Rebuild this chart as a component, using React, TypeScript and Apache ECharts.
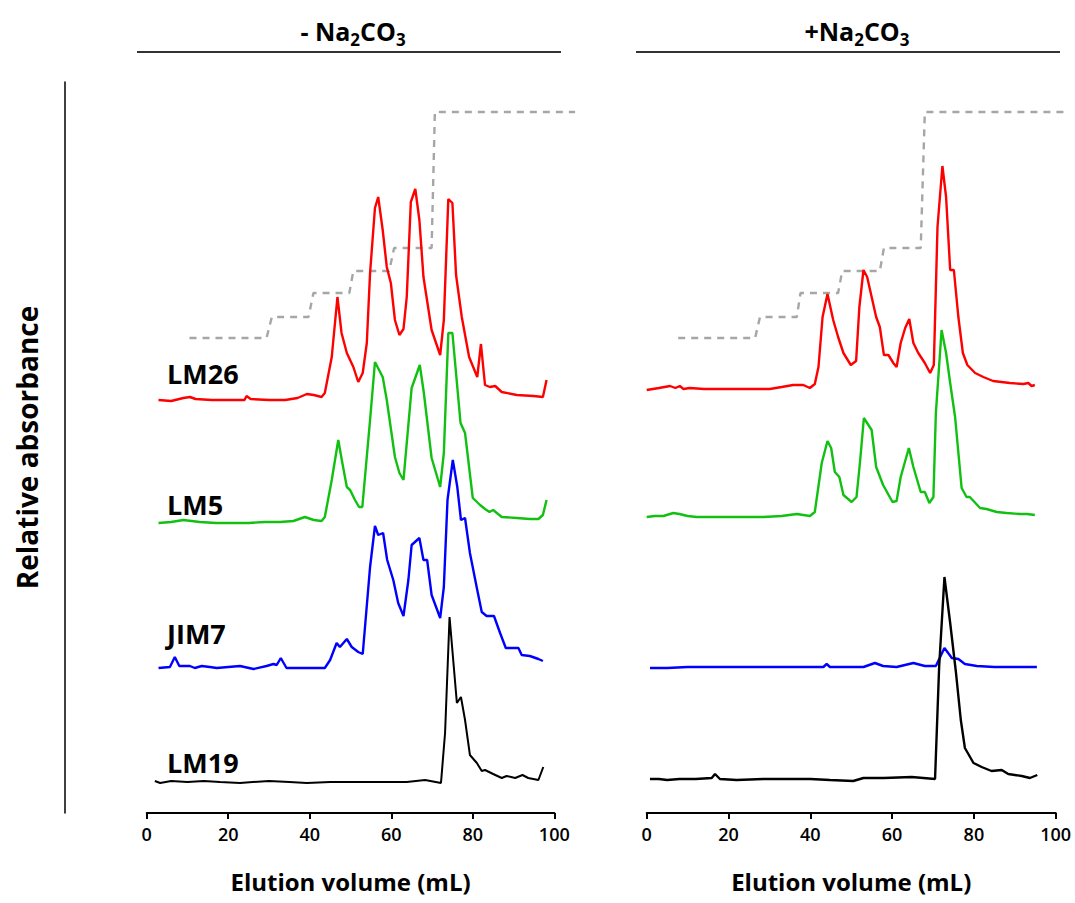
import React, { useEffect, useRef } from "react";
import * as echarts from "echarts";

// ---------- data ----------
const xTicks = [0, 20, 40, 60, 80, 100];
const traceLabels = ["LM26", "LM5", "JIM7", "LM19"];
const panelTitles = ["- Na2CO3", "+Na2CO3"];

// Left panel (- Na2CO3): [elution volume mL, stacked relative absorbance]
const leftLM26: [number, number][] = [
  [2.9, 413], [6, 412], [9, 415], [10.6, 416], [12, 414], [16, 413], [20, 413], [24, 413], [24.5, 417], [25.5, 414],
  [30, 413], [34, 413], [37, 415], [39.3, 419], [41, 418], [42.9, 416], [43.7, 420], [45.4, 456], [46.8, 516], [47.8, 480],
  [49.1, 460], [50.7, 446], [51.9, 431], [53, 440], [54, 470], [54.8, 540], [56, 605], [56.8, 616], [57.9, 583], [58.9, 546],
  [59.9, 530], [60.9, 493], [62, 478], [63, 484], [63.8, 516], [64.8, 611], [65.9, 624], [66.9, 593], [67.9, 536], [69.9, 483],
  [72, 458], [72.9, 493], [74, 614], [75, 610], [75.9, 538], [77.3, 496], [79.1, 456], [81.1, 436], [82, 469], [83, 428],
  [84.2, 426], [85.5, 427], [87.1, 421], [90.8, 418], [94.9, 417], [97.2, 416], [98.1, 433],
];
const leftLM5: [number, number][] = [
  [2.9, 290], [6, 291], [9, 293], [13, 291], [17, 290], [21.2, 290], [25, 290], [29, 291], [32.7, 291], [36, 292],
  [38.8, 296], [41, 293], [42.9, 292], [43.7, 296], [45.4, 333], [47, 373], [48, 350], [49.1, 326], [49.9, 323], [51.1, 313],
  [52.1, 306], [52.9, 306], [54.8, 393], [56, 451], [57.9, 436], [58.9, 413], [60.9, 356], [62, 340], [63, 333], [63.8, 370],
  [65, 425], [67, 448], [68, 420], [69.9, 355], [72, 326], [72.9, 360], [74, 480], [75, 480], [77, 390], [78.1, 380],
  [80, 315], [81.8, 308], [83, 304], [84.1, 301], [85, 303], [87.1, 296], [90.8, 295], [94, 294], [96.1, 294], [97.2, 298], [98.1, 313],
];
const leftJIM7: [number, number][] = [
  [2.9, 145], [5.7, 146], [6.9, 156], [8, 147], [10.6, 147], [11.8, 145], [13.5, 147], [15.5, 146], [17.2, 145], [20, 146],
  [22.9, 147], [26.2, 144], [29.4, 147], [31.1, 149], [31.9, 148], [32.9, 155], [34.3, 145], [40, 145], [43.7, 145], [45, 153],
  [46.6, 170], [47.4, 166], [49.1, 174], [50.3, 166], [51.9, 161], [53, 159], [54.8, 246], [56, 287], [56.8, 278], [58, 280],
  [59, 253], [60.5, 233], [61.7, 210], [63, 197], [64.2, 233], [65, 268], [66.9, 275], [67.9, 253], [68.8, 253], [69.9, 218],
  [72, 195], [72.9, 226], [73.8, 313], [75.1, 353], [76.2, 326], [77.1, 293], [78.1, 295], [79.3, 260], [81, 225], [82.2, 201],
  [83.4, 197], [85.2, 197], [86.7, 180], [88.1, 165], [91.2, 165], [92, 158], [94, 157], [96.1, 154], [97.2, 152],
];
const leftLM19: [number, number][] = [
  [2, 32], [3.3, 30], [6, 32], [10, 31], [14, 32], [18, 31], [22.9, 30], [26, 31], [30, 32], [35, 31],
  [39.3, 30], [45, 31], [51.5, 31], [57, 31], [63.8, 31], [68.3, 33], [72.2, 30], [73.2, 80], [74.3, 196], [76.1, 110],
  [77.1, 116], [78.1, 93], [79.3, 58], [81, 50], [82.2, 42], [83, 43], [85, 39], [87.1, 35], [88.3, 37], [90.4, 35],
  [92.2, 38], [93.6, 35], [96.1, 33], [97.3, 46],
];
const leftGradient: [number, number][] = [
  [10.5, 475], [29.4, 475], [30.7, 496], [39.7, 496], [40.9, 520], [49.7, 520], [50.7, 542], [59.5, 542],
  [60.7, 565], [69.9, 565], [70.7, 701], [105.1, 701],
];

// Right panel (+Na2CO3)
const rightLM26: [number, number][] = [
  [0, 423], [3, 425], [5.7, 427], [7, 425], [8.1, 427], [9, 424], [10.5, 425], [14, 424], [20.4, 424], [25, 424],
  [30.1, 424], [33, 426], [35.8, 428], [38.3, 428], [39.9, 425], [41.1, 429], [42, 446], [43, 496], [44.2, 519], [45.6, 493],
  [46.8, 476], [48.1, 460], [49.9, 448], [51.2, 452], [52, 506], [53, 543], [53.9, 536], [55, 516], [56.1, 496], [57, 486],
  [58, 458], [59.1, 458], [60.3, 450], [61.1, 446], [62.1, 470], [63.2, 485], [64.2, 494], [65.2, 470], [66.4, 460], [68, 450],
  [69.3, 440], [70.2, 448], [71.1, 586], [72.3, 647], [73.2, 616], [74.2, 543], [75.1, 543], [76.2, 496], [77.3, 460], [78.4, 448],
  [80.3, 440], [82.3, 436], [84.7, 432], [88.8, 430], [92.1, 429], [93.3, 430], [94.1, 427], [94.9, 428],
];
const rightLM5: [number, number][] = [
  [0, 296], [2, 297], [4.1, 297], [6.5, 300], [8, 299], [10, 297], [12.2, 296], [14.7, 296], [20, 296], [25, 296],
  [28.5, 296], [33, 297], [36.7, 299], [39.9, 297], [41.1, 301], [42.8, 350], [44.2, 372], [45.1, 365], [46, 341], [47.1, 336],
  [48.1, 318], [50.1, 311], [51.3, 316], [52.2, 353], [53.1, 395], [55, 383], [56.1, 346], [57.8, 328], [60.1, 311], [61.1, 312],
  [62.1, 336], [64.1, 365], [65.2, 346], [67, 321], [68, 321], [69.1, 310], [70.1, 316], [70.7, 400], [72.1, 483], [73.2, 460],
  [74.2, 430], [75.4, 396], [77, 325], [78.2, 316], [79, 316], [81.5, 305], [83.1, 304], [85.6, 301], [88, 300], [91.3, 299],
  [93, 299], [94.9, 298],
];
const rightJIM7: [number, number][] = [
  [0.8, 145], [5, 145], [10, 146], [20, 146], [30, 146], [40, 146], [43.2, 146], [44, 149], [44.8, 146], [50, 146],
  [53, 146], [55.8, 150], [57.8, 147], [61.1, 146], [65.2, 150], [68, 147], [70.7, 147], [72.8, 165], [74.6, 155], [76.2, 154],
  [77.8, 149], [80.7, 147], [85, 146], [90, 146], [95.4, 146],
];
const rightLM19: [number, number][] = [
  [0.8, 34], [3, 34], [5, 33], [8, 34], [12, 34], [15.9, 35], [16.7, 39], [17.9, 34], [22, 33], [28.5, 34],
  [35, 34], [40, 34], [44.8, 33], [50.5, 32], [53, 35], [58, 35], [64.8, 36], [70.5, 34], [71.5, 146], [72.8, 236],
  [74.2, 190], [75.6, 141], [76.8, 93], [77.8, 65], [79.9, 50], [81.9, 46], [84.3, 42], [86.8, 43], [88.4, 39], [91.7, 37],
  [93.7, 35], [94.9, 37], [95.5, 38],
];
const rightGradient: [number, number][] = [
  [7.7, 475], [26.5, 475], [27.7, 496], [36.7, 496], [37.6, 520], [46.8, 520], [47.8, 542], [57, 542],
  [58, 565], [67, 565], [68, 701], [102.3, 701],
];

// ---------- chart ----------
const FONT = "'Open Sans', 'Noto Sans', sans-serif";
const colors = ["#ff0000", "#11c011", "#0000ff", "#000000"];

function toRich(t: string) {
  return t.replace(/(\d)/g, "{s|$1}").replace(/(^|\})([^{}]+)(?=\{|$)/g, "$1{a|$2}");
}

export default function App() {
  const ref = useRef<HTMLDivElement>(null);
  useEffect(() => {
    if (!ref.current) return;
    const chart = echarts.init(ref.current, undefined, { renderer: "svg" });
    const panels = [
      { traces: [leftLM26, leftLM5, leftJIM7, leftLM19], grad: leftGradient, title: panelTitles[0] },
      { traces: [rightLM26, rightLM5, rightJIM7, rightLM19], grad: rightGradient, title: panelTitles[1] },
    ];
    const mainGrids = [
      { left: 146.7, width: 407.6, top: 82, height: 731 },
      { left: 646.7, width: 409, top: 82, height: 731 },
    ];
    // gradient grids share the same scale but allow the step line to run past 100 mL
    const gradMax = [106, 103];
    const gradGrids = mainGrids.map((g, i) => ({ ...g, width: (g.width * gradMax[i]) / 100 }));
    const grids = [...mainGrids, ...gradGrids];

    const series: any[] = [];
    panels.forEach((p, gi) => {
      p.traces.forEach((d, ti) => {
        series.push({
          type: "line",
          name: `${traceLabels[ti]} (${p.title})`,
          xAxisIndex: gi,
          yAxisIndex: gi,
          data: d,
          showSymbol: false,
          symbol: "none",
          lineStyle: { color: colors[ti], width: ti === 3 && gi === 0 ? 2 : 2.4 },
          z: 3,
        });
      });
      series.push({
        type: "line",
        name: `NaCl gradient (${p.title})`,
        xAxisIndex: gi + 2,
        yAxisIndex: gi + 2,
        data: p.grad,
        showSymbol: false,
        symbol: "none",
        lineStyle: { color: "#a6a6a6", width: 2.4, type: [7, 6] },
        z: 2,
      });
    });

    const xAxis: any[] = mainGrids.map((_, gi) => ({
      type: "value",
      gridIndex: gi,
      min: 0,
      max: 100,
      interval: 20,
      name: "Elution volume (mL)",
      nameLocation: "middle",
      nameGap: 56,
      nameTextStyle: { fontFamily: FONT, fontWeight: "bold", fontSize: 24, color: "#000" },
      axisLine: { show: true, onZero: false, lineStyle: { color: "#000", width: 2 } },
      axisTick: { show: true, inside: false, length: 6, lineStyle: { color: "#000", width: 2 } },
      axisLabel: { margin: 12, fontFamily: FONT, fontWeight: 600, fontSize: 18, color: "#000" },
      splitLine: { show: false },
    }));
    gradGrids.forEach((_, i) => {
      xAxis.push({ type: "value", gridIndex: i + 2, min: 0, max: gradMax[i], show: false, splitLine: { show: false } });
    });
    const yAxis: any[] = mainGrids.map((_, gi) => ({
      type: "value",
      gridIndex: gi,
      min: 0,
      max: 731,
      show: true,
      offset: gi === 0 ? 81.7 : 0,
      name: gi === 0 ? "Relative absorbance" : "",
      nameLocation: "middle",
      nameRotate: 90,
      nameGap: 24,
      nameTextStyle: { fontFamily: FONT, fontWeight: "bold", fontSize: 28, color: "#000" },
      axisLine: { show: gi === 0, onZero: false, lineStyle: { color: "#000", width: 1.5 } },
      axisTick: { show: false },
      axisLabel: { show: false },
      splitLine: { show: false },
    }));
    gradGrids.forEach((_, i) => {
      yAxis.push({ type: "value", gridIndex: i + 2, min: 0, max: 731, show: false, splitLine: { show: false } });
    });

    const labelY = [373, 504, 633, 762];
    const graphic: any[] = [
      { type: "line", shape: { x1: 137, y1: 52, x2: 561, y2: 52 }, style: { stroke: "#333", lineWidth: 2 } },
      { type: "line", shape: { x1: 636, y1: 52, x2: 1060, y2: 52 }, style: { stroke: "#333", lineWidth: 2 } },
      ...traceLabels.map((t, i) => ({
        type: "text",
        x: 167,
        y: labelY[i],
        style: {
          text: t,
          fontFamily: FONT,
          fontWeight: "bold",
          fontSize: 27,
          fill: "#000",
          verticalAlign: "middle",
          align: "left",
        },
      })),
    ];

    const rich = {
      a: { fontFamily: FONT, fontWeight: "bold", fontSize: 25, color: "#000", lineHeight: 28 },
      s: { fontFamily: FONT, fontWeight: "bold", fontSize: 17, color: "#000", lineHeight: 17, padding: [16, 0, 0, 0] },
    };

    chart.setOption({
      animation: false,
      backgroundColor: "#fff",
      textStyle: { fontFamily: FONT },
      title: [
        { text: toRich(panelTitles[0]), left: 348, top: 12, textAlign: "center", textStyle: { rich } },
        { text: toRich(panelTitles[1]), left: 852, top: 12, textAlign: "center", textStyle: { rich } },
      ],
      grid: grids.map((g) => ({ ...g, containLabel: false })),
      xAxis,
      yAxis,
      series,
      graphic,
    });
    return () => chart.dispose();
  }, []);
  return (
    <div
      ref={ref}
      style={{ position: "fixed", left: 0, top: 0, width: 1075, height: 903, background: "#fff" }}
    />
  );
}
